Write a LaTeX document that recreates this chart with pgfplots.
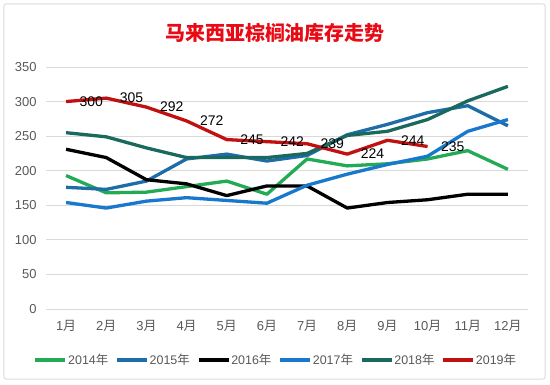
\documentclass[border=0pt]{standalone}
\usepackage{fontspec}
\setmainfont{Liberation Sans}
\newfontfamily\cjk{Noto Sans CJK SC}
\usepackage{pgfplots}
\pgfplotsset{compat=1.18}
\definecolor{c14}{RGB}{34,170,84}
\definecolor{c15}{RGB}{30,108,168}
\definecolor{c16}{RGB}{0,0,0}
\definecolor{c17}{RGB}{24,120,205}
\definecolor{c18}{RGB}{25,105,92}
\definecolor{c19}{RGB}{192,16,16}
\definecolor{titlered}{RGB}{232,10,20}
\definecolor{tickgray}{RGB}{89,89,89}
\definecolor{gridgray}{RGB}{217,217,217}
\begin{document}
\begin{tikzpicture}
\path[use as bounding box] (-46bp,-76bp) rectangle (504bp,309bp);
\draw[rounded corners=2bp, draw={rgb,255:red,220;green,220;blue,220}, line width=1bp, fill=white] (-42bp,-70bp) rectangle (499bp,305bp);
\begin{axis}[
  at={(0,0)}, anchor=south west,
  scale only axis, width=482bp, height=242bp,
  xmin=0.5, xmax=12.5, ymin=0, ymax=350,
  xtick={1,...,12},
  xticklabels={1{\cjk 月},2{\cjk 月},3{\cjk 月},4{\cjk 月},5{\cjk 月},6{\cjk 月},7{\cjk 月},8{\cjk 月},9{\cjk 月},10{\cjk 月},11{\cjk 月},12{\cjk 月}},
  ytick={0,50,...,350},
  ymajorgrids, grid style={gridgray, line width=0.9bp},
  axis line style={draw=none}, tick style={draw=none},
  /pgf/number format/assume math mode=true,
  tick label style={font=\fontsize{13}{15}\selectfont, text=tickgray},
  yticklabel style={xshift=-6bp},
  xticklabel style={yshift=-8bp},
  legend columns=6,
  legend style={at={(axis description cs:0.476,-0.2107)}, anchor=center, draw=none, fill=none,
    font=\fontsize{12.5}{14}\selectfont, text=tickgray,
    /tikz/every even column/.append style={column sep=6bp},
    nodes={inner sep=1bp}},
  legend image code/.code={\draw[#1, line width=3.4bp] (0bp,0bp) -- (30bp,0bp);},
  every axis plot/.append style={line width=3.3bp, mark=none, line join=round},
]
\addplot[c14] coordinates {(1,193) (2,168) (3,169) (4,177) (5,185) (6,166) (7,217) (8,207) (9,210) (10,217) (11,229) (12,202)};
\addlegendentry{2014{\cjk 年}}
\addplot[c15] coordinates {(1,176) (2,173) (3,185) (4,217) (5,224) (6,214) (7,222) (8,252) (9,267) (10,284) (11,294) (12,265)};
\addlegendentry{2015{\cjk 年}}
\addplot[c16] coordinates {(1,231) (2,219) (3,187) (4,181) (5,164) (6,178) (7,178) (8,146) (9,154) (10,158) (11,166) (12,166)};
\addlegendentry{2016{\cjk 年}}
\addplot[c17] coordinates {(1,154) (2,146) (3,156) (4,161) (5,157) (6,153) (7,179) (8,195) (9,209) (10,221) (11,257) (12,274)};
\addlegendentry{2017{\cjk 年}}
\addplot[c18] coordinates {(1,255) (2,249) (3,233) (4,219) (5,219) (6,219) (7,225) (8,251) (9,257) (10,274) (11,301) (12,322)};
\addlegendentry{2018{\cjk 年}}
\addplot[c19, nodes near coords, every node near coord/.append style={anchor=west, xshift=11bp, text=black, font=\fontsize{14}{16}\selectfont, inner sep=1bp}] coordinates {(1,300) (2,305) (3,292) (4,272) (5,245) (6,242) (7,239) (8,224) (9,244) (10,235)};
\addlegendentry{2019{\cjk 年}}
\end{axis}
\node[text=titlered, font=\cjk\bfseries\fontsize{20}{24}\selectfont] at (229bp,276bp) {马来西亚棕榈油库存走势};
\end{tikzpicture}
\end{document}
